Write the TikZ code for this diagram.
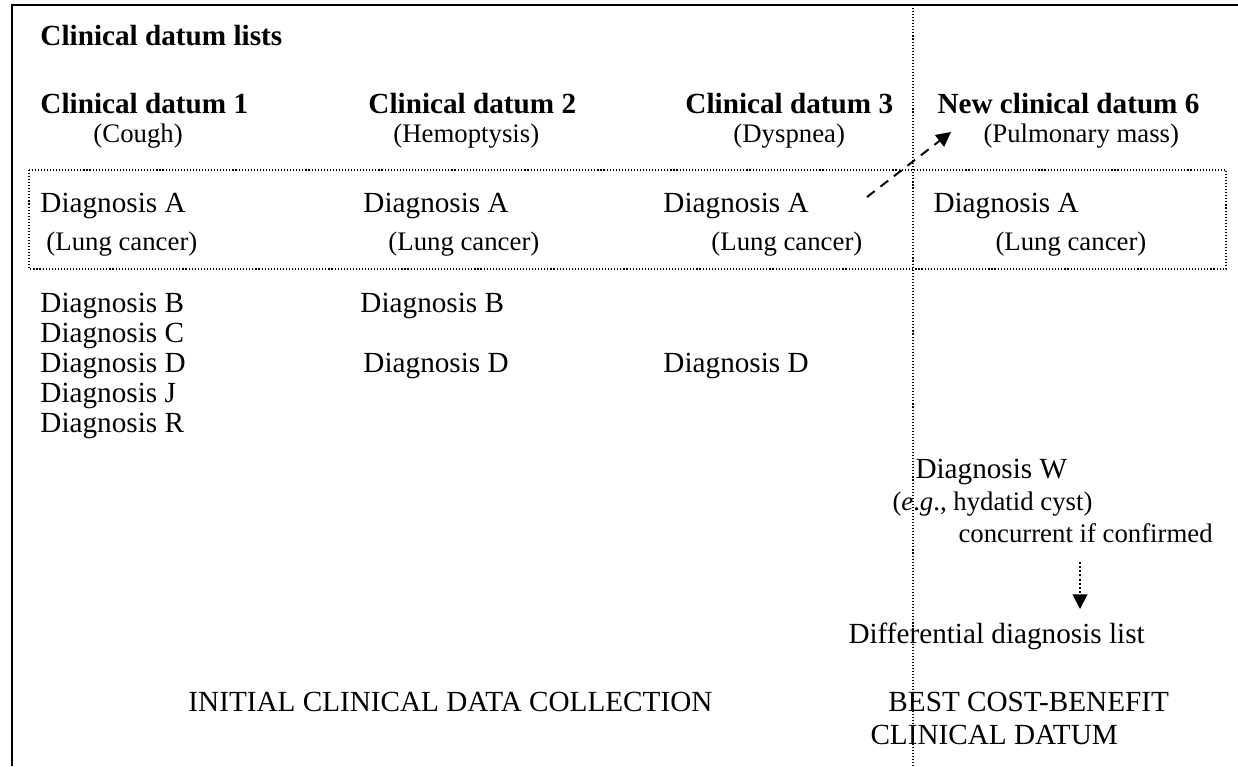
\documentclass[tikz,border=0pt]{standalone}
\usepackage{fontspec}
\setmainfont{Liberation Serif}
\usetikzlibrary{arrows.meta}
\tikzset{
  txt/.style={inner sep=0pt, anchor=base west, font=\fontsize{12}{14}\selectfont},
  head/.style={txt, font=\fontsize{12}{14}\selectfont\bfseries},
  sub/.style={txt, font=\fontsize{11}{13}\selectfont},
  dots/.style={line width=0.45pt, dash pattern=on 0.45pt off 0.8pt},
}
\begin{document}
\begin{tikzpicture}[x=0.411pt, y=-0.411pt]
        \useasboundingbox (0,0) rectangle (1238,766);
        \draw [line width=0.8pt] (12,766) -- (12,5) -- (1238,5);
        \draw [dots] (29,170) rectangle (1226,269);
        \draw [dots] (913,5) -- (913,766);
        \node [head] (T) at (40,45) {Clinical datum lists};
        \node [head] (C1) at (40,113) {Clinical datum 1};
        \node [head] (C2) at (368,113) {Clinical datum 2};
        \node [head] (C3) at (685,113) {Clinical datum 3};
        \node [head] (C6) at (937,113) {New clinical datum 6};
        \node [sub] (S1) at (93,142) {(Cough)};
        \node [sub] (S2) at (393,142) {(Hemoptysis)};
        \node [sub] (S3) at (733,142) {(Dyspnea)};
        \node [sub] (S6) at (983,142) {(Pulmonary mass)};
        \node [txt] (A1) at (40,212) {Diagnosis A};
        \node [txt] (A2) at (363,212) {Diagnosis A};
        \node [txt] (A3) at (663,212) {Diagnosis A};
        \node [txt] (A6) at (933,212) {Diagnosis A};
        \node [sub] (L1) at (46,250) {(Lung cancer)};
        \node [sub] (L2) at (388,250) {(Lung cancer)};
        \node [sub] (L3) at (711,250) {(Lung cancer)};
        \node [sub] (L6) at (995,250) {(Lung cancer)};
        \node [txt] (B1) at (40,312) {Diagnosis B};
        \node [txt] (B2) at (360,312) {Diagnosis B};
        \node [txt] (DC1) at (40,342) {Diagnosis C};
        \node [txt] (DD1) at (40,372) {Diagnosis D};
        \node [txt] (DD2) at (363,372) {Diagnosis D};
        \node [txt] (DD3) at (663,372) {Diagnosis D};
        \node [txt] (DJ1) at (40,402) {Diagnosis J};
        \node [txt] (DR1) at (40,432) {Diagnosis R};
        \node [txt] (W) at (915,478) {Diagnosis W};
        \node [sub] (WE) at (892,510) {(\textit{e}.\textit{g}., hydatid cyst)};
        \node [sub] (WC) at (958,542) {concurrent if confirmed};
        \node [txt] (DL) at (848,643) {Differential diagnosis list};
        \node [txt] (IN) at (188,711) {INITIAL CLINICAL DATA COLLECTION};
        \node [txt] (BC) at (888,711) {BEST COST-BENEFIT};
        \node [txt] (BD) at (870,744) {CLINICAL DATUM};
        \coordinate (NA) at (867,197);
        \coordinate (NB) at (951,132);
        \coordinate (WA) at (1080,562);
        \coordinate (WB) at (1080,609);
        \draw [-{Triangle[length=6pt,width=6pt]}, line width=0.8pt, dash pattern=on 4pt off 3pt] (NA) -- (NB);
        \draw [-{Triangle[length=6pt,width=6pt]}, line width=0.8pt, dash pattern=on 0.8pt off 0.9pt] (WA) -- (WB);
\end{tikzpicture}
\end{document}
